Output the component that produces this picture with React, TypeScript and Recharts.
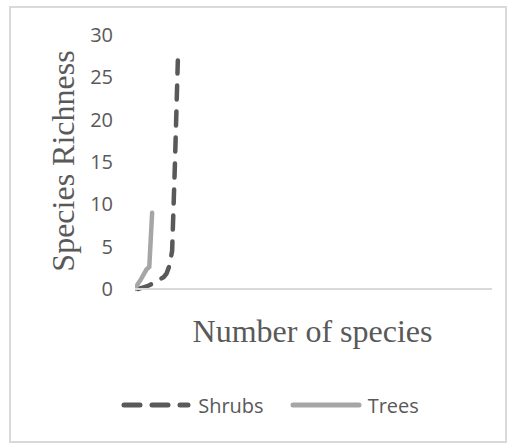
import React from "react";
import { LineChart, Line, XAxis, YAxis, Legend, Label } from "recharts";

// sampling step (x) and cumulative richness (y)
const shrubsSteps = [1, 2, 3, 4, 5, 6, 7, 8, 9, 10, 11, 12, 13, 14, 15];
const shrubsRichness = [0, 0.1, 0.2, 0.3, 0.45, 0.6, 0.8, 1.0, 1.2, 1.4, 1.8, 2.7, 4.5, 15, 27];
const treesSteps = [0, 1, 2, 3, 4, 5, 6];
const treesRichness = [0, 0.6, 1.1, 1.7, 2.3, 2.6, 9];
const yTicks = [0, 5, 10, 15, 20, 25, 30];

const shrubsData = shrubsSteps.map((x, i) => ({ x, y: shrubsRichness[i] }));
const treesData = treesSteps.map((x, i) => ({ x, y: treesRichness[i] }));

const DARK = "#595959";
const LIGHT = "#a6a6a6";
const TEXT = "#595959";
const AXIS = "#d9d9d9";

function ChartLegend() {
  return (
    <div
      style={{
        display: "flex",
        justifyContent: "center",
        alignItems: "center",
        height: 30,
        paddingLeft: 30,
        fontFamily: "'Open Sans', sans-serif",
        fontSize: 20,
        color: TEXT,
      }}
    >
      <svg width={72} height={12}>
        <line x1={4} y1={6} x2={68} y2={6} stroke={DARK} strokeWidth={5} strokeDasharray="16 12" strokeLinecap="round" />
      </svg>
      <span style={{ marginLeft: 6 }}>Shrubs</span>
      <svg width={72} height={12} style={{ marginLeft: 26 }}>
        <line x1={3} y1={6} x2={69} y2={6} stroke={LIGHT} strokeWidth={5} strokeLinecap="round" />
      </svg>
      <span style={{ marginLeft: 6 }}>Trees</span>
    </div>
  );
}

export default function App() {
  return (
    <div style={{ position: "absolute", left: 0, top: 0, width: 509, height: 446, background: "#ffffff" }}>
      <div
        style={{
          position: "absolute",
          left: 9,
          top: 6,
          width: 494,
          height: 433,
          border: `2px solid ${AXIS}`,
        }}
      />
      <div style={{ position: "absolute", left: 0, top: 0 }}>
        <LineChart width={509} height={446} margin={{ top: 35, right: 17, left: 105, bottom: 26 }}>
          <XAxis
            type="number"
            dataKey="x"
            domain={[0, 125]}
            allowDataOverflow
            tick={false}
            tickLine={false}
            axisLine={{ stroke: AXIS, strokeWidth: 2 }}
            height={101}
          >
            <Label
              content={(props: any) => {
                const vb = props.viewBox;
                return (
                  <text
                    x={vb.x + vb.width / 2 - 1}
                    y={vb.y + 53}
                    textAnchor="middle"
                    fontFamily="'Liberation Serif', 'Times New Roman', serif"
                    fontSize={32}
                    fill={TEXT}
                  >
                    Number of species
                  </text>
                );
              }}
            />
          </XAxis>
          <YAxis
            type="number"
            domain={[0, 30]}
            ticks={yTicks}
            width={30}
            axisLine={false}
            tickLine={false}
            tickMargin={16}
            tick={{ fill: TEXT, fontSize: 20, fontFamily: "'Open Sans', sans-serif" }}
          >
            <Label
              content={(props: any) => {
                const vb = props.viewBox;
                const cx = vb.x - 31;
                const cy = vb.y + vb.height / 2 - 1;
                return (
                  <text
                    x={cx}
                    y={cy}
                    textAnchor="middle"
                    transform={`rotate(-90 ${cx} ${cy})`}
                    fontFamily="'Liberation Serif', 'Times New Roman', serif"
                    fontSize={32}
                    fill={TEXT}
                  >
                    Species Richness
                  </text>
                );
              }}
            />
          </YAxis>
          <Legend verticalAlign="bottom" content={() => <ChartLegend />} wrapperStyle={{ left: 0, width: 509 }} />
          <Line
            data={shrubsData}
            dataKey="y"
            name="Shrubs"
            stroke={DARK}
            strokeWidth={4.5}
            strokeDasharray="14 12"
            strokeLinecap="round"
            dot={false}
            type="linear"
            isAnimationActive={false}
          />
          <Line
            data={treesData}
            dataKey="y"
            name="Trees"
            stroke={LIGHT}
            strokeWidth={4.5}
            strokeLinecap="round"
            dot={false}
            type="linear"
            isAnimationActive={false}
          />
        </LineChart>
      </div>
    </div>
  );
}
